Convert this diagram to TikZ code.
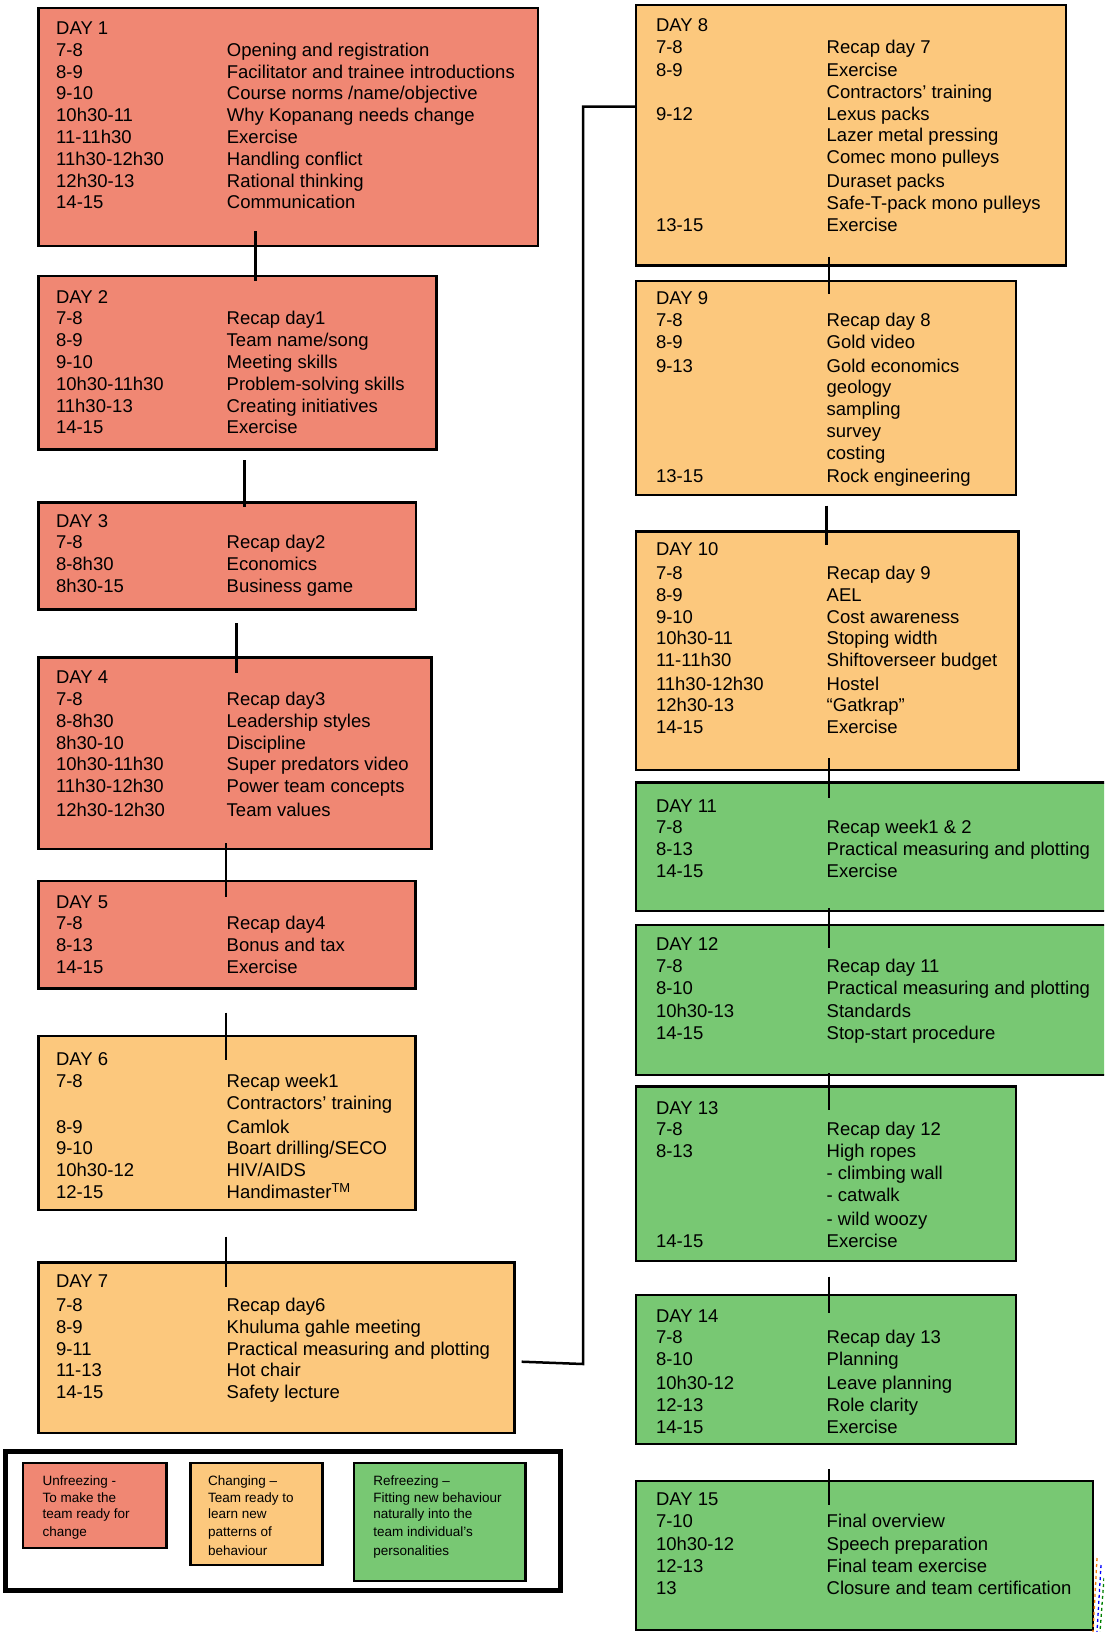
\documentclass[tikz,border=0pt]{standalone}
\usepackage{fontspec}
\setmainfont{Liberation Sans}
\usepackage{array}
\usetikzlibrary{calc}
\definecolor{unfreeze}{RGB}{240,135,115}
\definecolor{cchange}{RGB}{252,200,125}
\definecolor{refreeze}{RGB}{120,200,115}
\newcommand\daysize{\fontsize{18.5}{21.8}\selectfont}
\newcommand\legsize{\fontsize{13.5}{16.2}\selectfont}
\tikzset{
  box/.style={draw=black, line width=2.5pt, inner sep=0pt, outer sep=0pt, anchor=north west},
  redbox/.style={box, fill=unfreeze},
  orabox/.style={box, fill=cchange},
  grnbox/.style={box, fill=refreeze},
  daytext/.style={anchor=north west, inner sep=0pt, outer sep=0pt, font=\daysize},
  legtext/.style={anchor=north west, inner sep=0pt, outer sep=0pt, font=\legsize},
  conn/.style={draw=black, line width=2.5pt},
}
\newcommand\dtext[4]{\node[daytext] (#1) at ($(#2.north west)+(#3)$) {\begin{tabular}{@{}p{170.7pt}@{}l@{}}#4\end{tabular}};}
\begin{document}
\begin{tikzpicture}[x=1pt,y=-1pt]
\clip (0,0) rectangle (1104,1632);
\fill[white] (0,0) rectangle (1104,1632);

% ---------- left column ----------
\node[redbox, minimum width=499.5pt, minimum height=238pt] (d1) at (38.5,8) {};
\dtext{t1}{d1}{17.7,11.2}{DAY 1 & \\
7-8 & Opening and registration\\
8-9 & Facilitator and trainee introductions\\
9-10 & Course norms /name/objective\\
10h30-11 & Why Kopanang needs change\\
11-11h30 & Exercise\\
11h30-12h30 & Handling conflict\\
12h30-13 & Rational thinking\\
14-15 & Communication}

\node[redbox, minimum width=398.4pt, minimum height=173.3pt] (d2) at (38.3,276) {};
\dtext{t2}{d2}{17.7,11.9}{DAY 2 & \\
7-8 & Recap day1\\
8-9 & Team name/song\\
9-10 & Meeting skills\\
10h30-11h30 & Problem-solving skills\\
11h30-13 & Creating initiatives\\
14-15 & Exercise}

\node[redbox, minimum width=377.7pt, minimum height=107pt] (d3) at (38.3,502.3) {};
\dtext{t3}{d3}{17.7,9.6}{DAY 3 & \\
7-8 & Recap day2\\
8-8h30 & Economics\\
8h30-15 & Business game}

\node[redbox, minimum width=393.4pt, minimum height=191.7pt] (d4) at (38.3,657.3) {};
\dtext{t4}{d4}{17.7,11.2}{DAY 4 & \\
7-8 & Recap day3\\
8-8h30 & Leadership styles\\
8h30-10 & Discipline\\
10h30-11h30 & Super predators video\\
11h30-12h30 & Power team concepts\\[1.5pt]
12h30-12h30 & Team values}

\node[redbox, minimum width=377.4pt, minimum height=107.3pt] (d5) at (38.3,881) {};
\dtext{t5}{d5}{17.7,11.9}{DAY 5 & \\
7-8 & Recap day4\\
8-13 & Bonus and tax\\
14-15 & Exercise}

\node[orabox, minimum width=377.4pt, minimum height=174pt] (d6) at (38.3,1036) {};
\dtext{t6}{d6}{17.7,14.5}{DAY 6 & \\
7-8 & Recap week1\\
 & Contractors’ training\\[2pt]
8-9 & Camlok\\
9-10 & Boart drilling/SECO\\
10h30-12 & HIV/AIDS\\
12-15 & Handimaster\textsuperscript{TM}}

\node[orabox, minimum width=476pt, minimum height=170.1pt] (d7) at (38.3,1262.7) {};
\dtext{t7}{d7}{17.7,9.2}{DAY 7 & \\[2.5pt]
7-8 & Recap day6\\
8-9 & Khuluma gahle meeting\\
9-11 & Practical measuring and plotting\\
11-13 & Hot chair\\
14-15 & Safety lecture}

% ---------- right column ----------
\node[orabox, minimum width=430pt, minimum height=260.7pt] (d8) at (636,5) {};
\dtext{t8}{d8}{20,11.2}{DAY 8 & \\
7-8 & Recap day 7\\[1.5pt]
8-9 & Exercise\\
 & Contractors’ training\\
9-12 & Lexus packs\\
 & Lazer metal pressing\\
 & Comec mono pulleys\\[2pt]
 & Duraset packs\\
 & Safe-T-pack mono pulleys\\
13-15 & Exercise}

\node[orabox, minimum width=380pt, minimum height=214pt] (d9) at (636,281) {};
\dtext{t9}{d9}{20,8.5}{DAY 9 & \\
7-8 & Recap day 8\\
8-9 & Gold video\\[2pt]
9-13 & Gold economics\\
 & geology\\
 & sampling\\
 & survey\\
 & costing\\[1.5pt]
13-15 & Rock engineering}

\node[orabox, minimum width=382.6pt, minimum height=238.3pt] (d10) at (636,531.7) {};
\dtext{t10}{d10}{20,8.8}{DAY 10 & \\[2pt]
7-8 & Recap day 9\\
8-9 & AEL\\
9-10 & Cost awareness\\
10h30-11 & Stoping width\\
11-11h30 & Shiftoverseer budget\\[1.5pt]
11h30-12h30 & Hostel\\
12h30-13 & “Gatkrap”\\
14-15 & Exercise}

\node[grnbox, minimum width=472pt, minimum height=128.3pt] (d11) at (636,782.7) {};
\dtext{t11}{d11}{20,14.2}{DAY 11 & \\
7-8 & Recap week1 \& 2\\
8-13 & Practical measuring and plotting\\
14-15 & Exercise}

\node[grnbox, minimum width=472pt, minimum height=150pt] (d12) at (636,925) {};
\dtext{t12}{d12}{20,10.5}{DAY 12 & \\
7-8 & Recap day 11\\
8-10 & Practical measuring and plotting\\[1.5pt]
10h30-13 & Standards\\
14-15 & Stop-start procedure}

\node[grnbox, minimum width=380pt, minimum height=174.3pt] (d13) at (636,1086.7) {};
\dtext{t13}{d13}{20,12.2}{DAY 13 & \\
7-8 & Recap day 12\\
8-13 & High ropes\\
 & - climbing wall\\
 & - catwalk\\[2.5pt]
 & - wild woozy\\
14-15 & Exercise}

\node[grnbox, minimum width=380pt, minimum height=149.2pt] (d14) at (636,1295) {};
\dtext{t14}{d14}{20,11.9}{DAY 14 & \\
7-8 & Recap day 13\\
8-10 & Planning\\[2pt]
10h30-12 & Leave planning\\
12-13 & Role clarity\\
14-15 & Exercise}

\node[grnbox, minimum width=457pt, minimum height=149pt] (d15) at (636,1481) {};
\dtext{t15}{d15}{20,9.5}{DAY 15 & \\
7-10 & Final overview\\[1.5pt]
10h30-12 & Speech preparation\\
12-13 & Final team exercise\\
13 & Closure and team certification}

% ---------- connectors ----------
\draw[conn] ([xshift=217.2pt,yshift=15pt]d1.south west) -- ([xshift=217.4pt,yshift=-4.7pt]d2.north west);
\draw[conn] ([xshift=206pt,yshift=-10.7pt]d2.south west) -- ([xshift=206pt,yshift=-5pt]d3.north west);
\draw[conn] ([xshift=198.4pt,yshift=-14pt]d3.south west) -- ([xshift=198.4pt,yshift=-16pt]d4.north west);
\draw[conn] ([xshift=187.7pt,yshift=6pt]d4.south west) -- ([xshift=187.7pt,yshift=-15.7pt]d5.north west);
\draw[conn] ([xshift=187.7pt,yshift=-24.4pt]d5.south west) -- ([xshift=187.7pt,yshift=-24pt]d6.north west);
\draw[conn] ([xshift=187.7pt,yshift=-26.7pt]d6.south west) -- ([xshift=187.7pt,yshift=-24pt]d7.north west);

\coordinate (k1) at (583,1364);
\coordinate (k2) at (583,106.7);
\draw[conn, line join=miter] ([xshift=7.4pt,yshift=-99pt]d7.north east) -- (k1) -- (k2) -- ([yshift=-101.7pt]d8.north west);

\draw[conn] ([xshift=193pt,yshift=9pt]d8.south west) -- ([xshift=193pt,yshift=-13pt]d9.north west);
\draw[conn] ([xshift=190.7pt,yshift=-10.7pt]d9.south west) -- ([xshift=190.7pt,yshift=-13.3pt]d10.north west);
\draw[conn] ([xshift=193pt,yshift=12pt]d10.south west) -- ([xshift=193pt,yshift=-15.3pt]d11.north west);
\draw[conn] ([xshift=193pt,yshift=3pt]d11.south west) -- ([xshift=193pt,yshift=-22.7pt]d12.north west);
\draw[conn] ([xshift=193pt,yshift=2pt]d12.south west) -- ([xshift=193pt,yshift=-23.3pt]d13.north west);
\draw[conn] ([xshift=193pt,yshift=-15.7pt]d13.south west) -- ([xshift=193pt,yshift=-18pt]d14.north west);
\draw[conn] ([xshift=193pt,yshift=-24.8pt]d14.south west) -- ([xshift=193pt,yshift=-24pt]d15.north west);

% ---------- legend ----------
\node[box, fill=white, line width=5pt, minimum width=555.6pt, minimum height=139pt] (leg) at (5.2,1451) {};
\node[redbox, minimum width=143.6pt, minimum height=85pt] (l1) at (22.9,1463) {};
\node[orabox, minimum width=132.2pt, minimum height=102pt] (l2) at (190.4,1463) {};
\node[grnbox, minimum width=171.7pt, minimum height=118pt] (l3) at (353.8,1463) {};
\node[legtext] (lt1) at ($(l1.north west)+(19.7,11.5)$) {\begin{tabular}{@{}l@{}}Unfreezing -\\ To make the\\ team ready for\\[2.5pt] change\end{tabular}};
\node[legtext] (lt2) at ($(l2.north west)+(17.6,11.5)$) {\begin{tabular}{@{}l@{}}Changing –\\ Team ready to\\ learn new\\[2.5pt] patterns of\\[2pt] behaviour\end{tabular}};
\node[legtext] (lt3) at ($(l3.north west)+(19.5,11.5)$) {\begin{tabular}{@{}l@{}}Refreezing –\\ Fitting new behaviour\\ naturally into the\\[2.5pt] team individual’s\\[2pt] personalities\end{tabular}};

% ---------- stray marks at lower right ----------
\draw[dashed, orange!85!brown, line width=1.3pt] (1097,1558) -- (1093,1632);
\draw[dashed, blue, line width=1.3pt] (1101,1565) -- (1097,1632);
\draw[dashed, green!50!black, line width=1.3pt] (1104,1578) -- (1100,1632);
\end{tikzpicture}
\end{document}
